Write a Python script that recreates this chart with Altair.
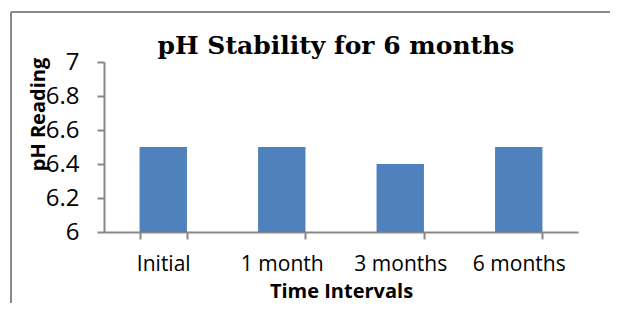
import altair as alt
import pandas as pd

categories = ["Initial", "1 month", "3 months", "6 months"]
ph_values = [6.5, 6.5, 6.4, 6.5]
y_ticks = [6, 6.2, 6.4, 6.6, 6.8, 7]

df = pd.DataFrame({"interval": categories, "ph": ph_values})

axis_color = "#878787"
frame_color = "#898989"
bar_color = "#4F81BD"
sans = "Open Sans"

bars = alt.Chart(df).mark_bar(color=bar_color).encode(
    x=alt.X(
        "interval:N",
        sort=categories,
        title="Time Intervals",
        scale=alt.Scale(paddingInner=0.6, paddingOuter=0.3),
        axis=alt.Axis(
            labelAngle=0,
            tickBand="extent",
            domainColor=axis_color,
            domainWidth=2,
            tickColor=axis_color,
            tickWidth=2,
            tickSize=7,
            labelFont=sans,
            labelFontSize=21,
            labelColor="#000000",
            labelBaseline="middle",
            labelPadding=25,
            titleFont=sans,
            titleFontSize=20,
            titleFontWeight="bold",
            titleColor="#000000",
            titleBaseline="middle",
            titleY=59,
        ),
    ),
    y=alt.Y(
        "ph:Q",
        title="pH Reading",
        scale=alt.Scale(domain=[6, 7], zero=False, nice=False),
        axis=alt.Axis(
            values=y_ticks,
            format="~g",
            grid=False,
            domainColor=axis_color,
            domainWidth=2,
            tickColor=axis_color,
            tickWidth=2,
            tickSize=7,
            labelFont=sans,
            labelFontSize=24,
            labelColor="#000000",
            labelAlign="right",
            labelPadding=18,
            titleFont=sans,
            titleFontSize=20,
            titleFontWeight="bold",
            titleColor="#000000",
            titleAngle=270,
            titleAlign="center",
            titleBaseline="middle",
            titleX=-66,
            titleY=52,
        ),
    ),
    y2=alt.datum(6),
)

frame_src = pd.DataFrame({"f": [0]})
frame_top = alt.Chart(frame_src).mark_rule(color=frame_color, strokeWidth=2).encode(
    x=alt.value(-93), x2=alt.value(506), y=alt.value(-50)
)
frame_left = alt.Chart(frame_src).mark_rule(color=frame_color, strokeWidth=2).encode(
    x=alt.value(-93), y=alt.value(-50), y2=alt.value(241)
)

chart = alt.layer(frame_top, frame_left, bars).properties(
    width=474,
    height=170,
    autosize="none",
    padding={"left": 96, "top": 54, "right": 32, "bottom": 71},
    title=alt.Title(
        "pH Stability for 6 months",
        font="DejaVu Serif",
        fontSize=25,
        fontWeight="bold",
        color="#000000",
        anchor="middle",
        frame="group",
        baseline="alphabetic",
        offset=0,
        dx=-5,
        dy=68,
    ),
).configure_view(strokeWidth=0)

chart.save("out.html", embed_options={"renderer": "svg", "actions": False})
